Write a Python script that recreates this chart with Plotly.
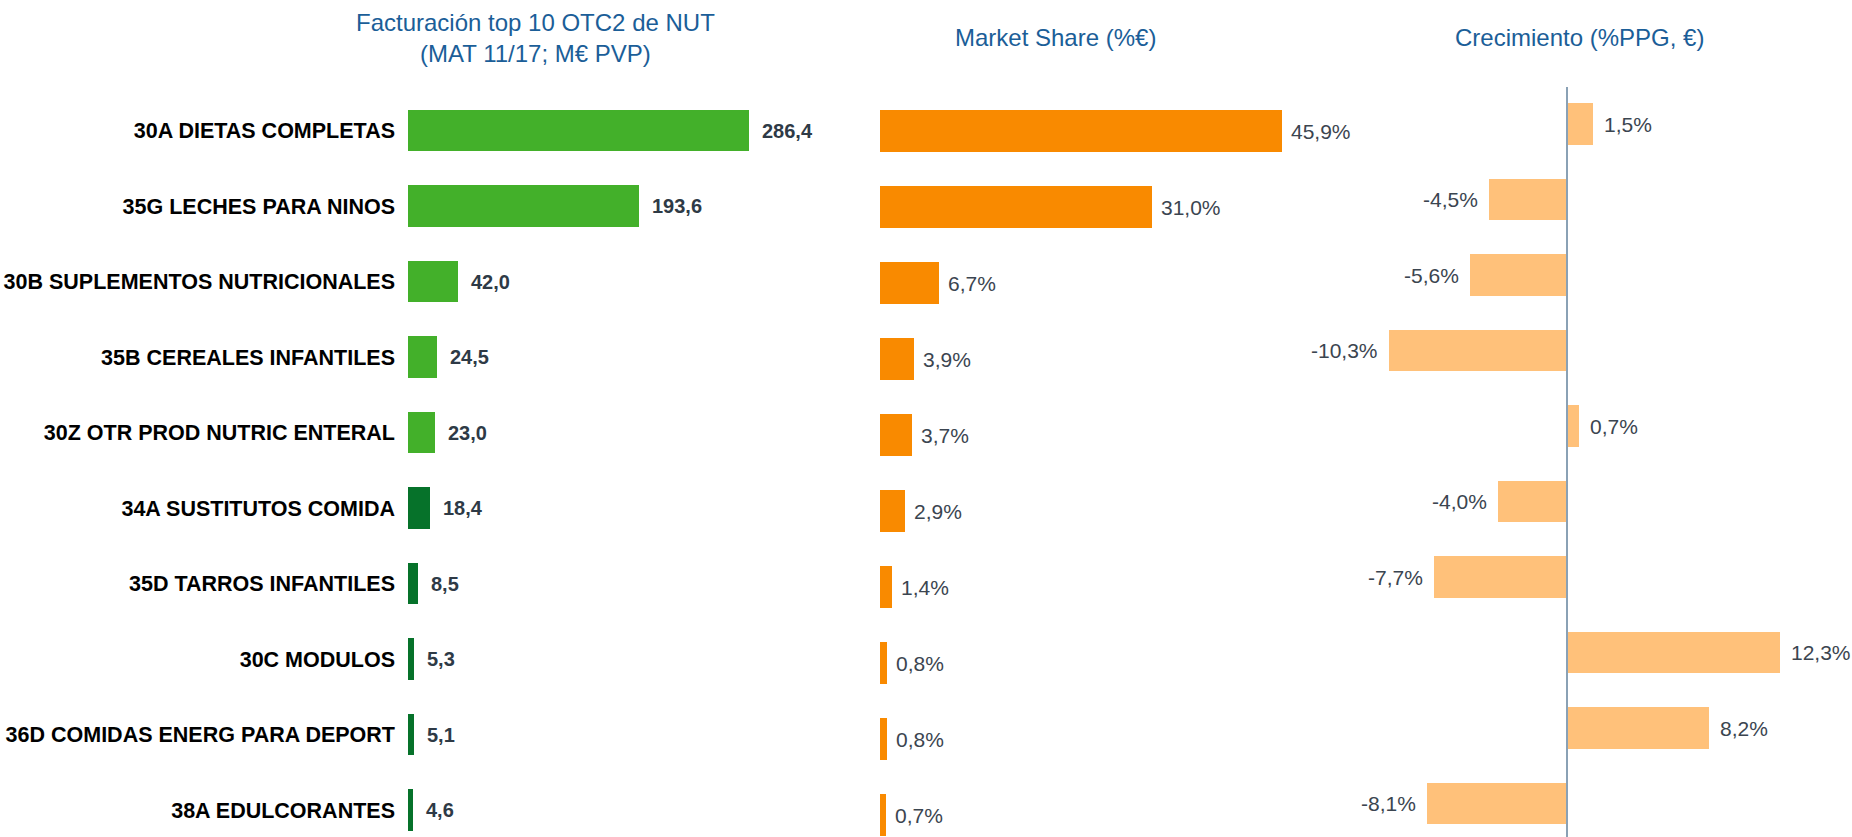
import plotly.graph_objects as go

# ---- data ----
categorias = [
    "30A DIETAS COMPLETAS",
    "35G LECHES PARA NINOS",
    "30B SUPLEMENTOS NUTRICIONALES",
    "35B CEREALES INFANTILES",
    "30Z OTR PROD NUTRIC ENTERAL",
    "34A SUSTITUTOS COMIDA",
    "35D TARROS INFANTILES",
    "30C MODULOS",
    "36D COMIDAS ENERG PARA DEPORT",
    "38A EDULCORANTES",
]
facturacion = [286.4, 193.6, 42.0, 24.5, 23.0, 18.4, 8.5, 5.3, 5.1, 4.6]   # M€ PVP
cuota = [45.9, 31.0, 6.7, 3.9, 3.7, 2.9, 1.4, 0.8, 0.8, 0.7]               # %€
crecimiento = [1.5, -4.5, -5.6, -10.3, 0.7, -4.0, -7.7, 12.3, 8.2, -8.1]   # %PPG

titulos = [
    "Facturación top 10 OTC2 de NUT<br>(MAT 11/17; M€ PVP)",
    "Market Share (%€)",
    "Crecimiento (%PPG, €)",
]

# ---- layout helpers (pixel geometry of the page) ----
W, H = 1852, 837
FONT = "Liberation Sans, Arial, sans-serif"
TITLE_COLOR = "#1B5E98"


def x_axis(zero_px, px_per_unit, left_px, right_px):
    """Horizontal axis whose zero sits at zero_px with the given scale."""
    return dict(
        domain=[left_px / W, right_px / W],
        range=[(left_px - zero_px) / px_per_unit, (right_px - zero_px) / px_per_unit],
        visible=False, fixedrange=True,
    )


def y_axis(first_center_px, step_px, **kw):
    """Category axis with row 0 centred at first_center_px from the top."""
    d = dict(
        domain=[0, 1],
        type="category",
        categoryorder="array",
        categoryarray=categorias,
        range=[(H - first_center_px) / step_px, -first_center_px / step_px],
        showgrid=False, zeroline=False, showline=False, ticks="",
        fixedrange=True,
    )
    d.update(kw)
    return d


def fmt(v, pct=False):
    s = f"{v:.1f}".replace(".", ",")
    return s + "%" if pct else s


fig = go.Figure()

# Panel 1: revenue
colores_fact = ["#43B02A" if i < 5 else "#06722A" for i in range(len(categorias))]
fig.add_trace(go.Bar(
    y=categorias, x=facturacion, orientation="h",
    marker=dict(color=colores_fact, line=dict(width=0)),
    width=0.556, xaxis="x", yaxis="y", hoverinfo="skip",
))

# Panel 2: market share
fig.add_trace(go.Bar(
    y=categorias, x=cuota, orientation="h",
    marker=dict(color="#F98A00", line=dict(width=0)),
    width=0.56, xaxis="x2", yaxis="y2", hoverinfo="skip",
))

# Panel 3: growth
fig.add_trace(go.Bar(
    y=categorias, x=crecimiento, orientation="h",
    marker=dict(color="#FFC17A", line=dict(width=0)),
    width=0.556, xaxis="x3", yaxis="y3", hoverinfo="skip",
))

annotations = []

# value labels
for c, v in zip(categorias, facturacion):
    annotations.append(dict(
        x=v, y=c, xref="x", yref="y", text=fmt(v), showarrow=False,
        xanchor="left", xshift=11,
        font=dict(family=FONT, size=20, color="#2E3A46", weight="bold"),
    ))
for c, v in zip(categorias, cuota):
    annotations.append(dict(
        x=v, y=c, xref="x2", yref="y2", text=fmt(v, True), showarrow=False,
        xanchor="left", xshift=7,
        font=dict(family=FONT, size=21, color="#3B4550"),
    ))
for c, v in zip(categorias, crecimiento):
    annotations.append(dict(
        x=v, y=c, xref="x3", yref="y3", text=fmt(v, True), showarrow=False,
        xanchor="left" if v >= 0 else "right", xshift=9 if v >= 0 else -9,
        font=dict(family=FONT, size=21, color="#3B4550"),
    ))

# panel titles
for texto, cx, cy in zip(titulos, [535, 1055, 1579], [38.5, 37, 37]):
    annotations.append(dict(
        x=cx / W, y=1 - cy / H, xref="paper", yref="paper", text=texto,
        showarrow=False, xanchor="center", yanchor="middle",
        font=dict(family=FONT, size=24, color=TITLE_COLOR),
    ))

fig.update_layout(
    width=W, height=H, autosize=False,
    margin=dict(l=0, r=0, t=0, b=0),
    paper_bgcolor="white", plot_bgcolor="rgba(0,0,0,0)",
    showlegend=False, bargap=0,
    font=dict(family=FONT),
    xaxis=x_axis(408, 341 / 286.4, 400, 870),
    xaxis2=x_axis(880, 402 / 45.9, 872, 1300),
    xaxis3=x_axis(1567, 17.3, 1302, 1852),
    yaxis=y_axis(130.5, 75.5, anchor="x", showticklabels=True,
                 ticklabelstandoff=4,
                 tickfont=dict(family=FONT, size=21.5, color="#000000", weight="bold")),
    yaxis2=y_axis(131, 76, anchor="x2", showticklabels=False),
    yaxis3=y_axis(124, 75.5, anchor="x3", showticklabels=False),
    annotations=annotations,
    shapes=[dict(
        type="line", xref="x3", yref="paper", x0=0, x1=0,
        y0=0, y1=1 - 87 / H, layer="above",
        line=dict(color="#8AA1B5", width=2),
    )],
)

fig.write_html("out.html")
